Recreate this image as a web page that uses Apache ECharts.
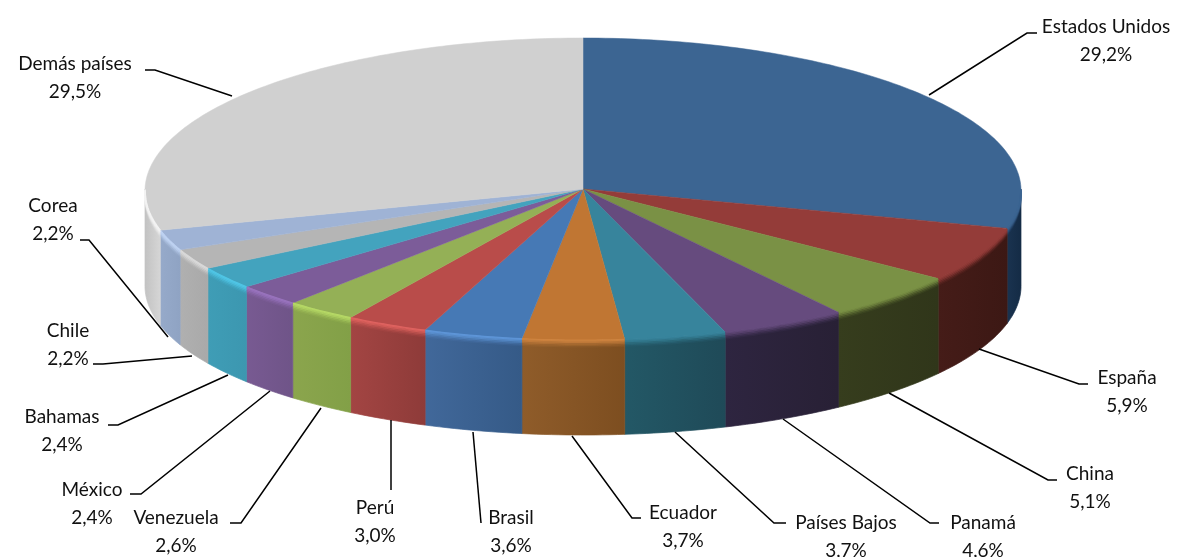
<!DOCTYPE html>
<html><head><meta charset="utf-8">
<style>html,body{margin:0;padding:0;background:#fff}#c{width:1188px;height:557px}</style>
<script src="https://cdn.jsdelivr.net/npm/echarts@6/dist/echarts.min.js"></script>
</head><body><div id="c"></div>
<script>
const categories = ['Estados Unidos','España','China','Panamá','Países Bajos','Ecuador','Brasil','Perú','Venezuela','México','Bahamas','Chile','Corea','Demás países'];
const shares = [29.2,5.9,5.1,4.6,3.7,3.7,3.6,3.0,2.6,2.4,2.4,2.2,2.2,29.5];

const topColors  = ['#3c6592','#943c39','#7a9145','#664b7e','#37849c','#c07633','#4679b5','#b94c4a','#94b056','#7c5c99','#43a3be','#b5b5b5','#9fb3d5','#d0d0d0'];
const sideLight  = ['#1a3350','#451c18','#363d1d','#2e2540','#235866','#8f5c2a','#41689a','#a34543','#8ba54d','#785a92','#3f9db6','#b0b0b0','#96aaca','#c2c2c2'];
const sideDark   = ['#142b45','#3c1814','#30361a','#282035','#1f4a58','#7d4e20','#355a87','#8e3b39','#82a047','#6f5488','#3c97b0','#a9a9a9','#8fa3c3','#d6d6d6'];
const rimColors  = ['#3c6592','#943c39','#7a9145','#664b7e','#37849c','#d08540','#5f98dc','#e26460','#b8dc66','#9a74c0','#50c8e8','#dcdcdc','#c0d4f4','#f4f4f4'];

// layout of the labels and leader lines, in page pixels
const labelLayout = [
  {at:[1106,41], line:[[929,95],[1027,33],[1037,33]]},
  {at:[1127,392],line:[[979,349],[1079,384],[1088,384]]},
  {at:[1090,488],line:[[889,393],[1048,480],[1057,480]]},
  {at:[983,537], line:[[783,419],[930,523],[939,523]]},
  {at:[846,537], line:[[675,432],[774,523],[786,523]]},
  {at:[683,527], line:[[572,436],[632,518],[641,518]]},
  {at:[511,532], line:[[473,432],[481,523]]},
  {at:[375,522], line:[[391,420],[391,490]]},
  {at:[176,532], line:[[321,408],[241,523],[230,523]]},
  {at:[92,504],  line:[[270,391],[141,494],[130,494]]},
  {at:[62,431],  line:[[228,375],[118,425],[108,425]]},
  {at:[68,345],  line:[[192,356],[103,364],[93,364]]},
  {at:[53,220],  line:[[168,337],[89,240],[80,240]]},
  {at:[75,78],   line:[[232,96],[155,70],[145,70]]}
];
const pieGeom = {cx:583, cy:189, rx:438, ry:151, depth:95, persp:0.012};
const rimBands = [[0.5,0.9],[2,0.7],[3.5,0.45],[5,0.25],[6.5,0.1]];

const full = 100;
let run = 0;
const sliceData = shares.map((v,i)=>{
  const s = run/full*360; run += v;
  return [s, Math.min(run/full*360,360), i];
});
const pt = (a,dy)=>{
  const r=a*Math.PI/180, c=Math.cos(r);
  return [pieGeom.cx+pieGeom.rx*Math.sin(r)*(1-pieGeom.persp*c),pieGeom.cy-pieGeom.ry*c+(dy||0)];
};
const arc = (s,e,dy)=>{const o=[];const n=Math.max(2,Math.ceil(Math.abs(e-s)));for(let k=0;k<=n;k++)o.push(pt(s+(e-s)*k/n,dy));return o;};

const renderSide=(p,api)=>{
  const s=Math.max(api.value(0),90),e=Math.min(api.value(1),270),i=api.value(2);
  if(e<=s) return {type:'group',children:[]};
  const pts=arc(s,e,0).concat(arc(e,s,pieGeom.depth));
  const grad=new echarts.graphic.LinearGradient(0,0,1,0,[{offset:0,color:sideLight[i]},{offset:1,color:sideDark[i]}]);
  return {type:'polygon',shape:{points:pts},silent:true,style:{fill:grad,stroke:grad,lineWidth:0.7}};
};
const renderTop=(p,api)=>{
  const s=api.value(0),e=api.value(1),i=api.value(2);
  return {type:'polygon',shape:{points:[[pieGeom.cx,pieGeom.cy]].concat(arc(s,e,0))},silent:true,
    style:{fill:topColors[i],stroke:topColors[i],lineWidth:0.5}};
};
const renderRim=(p,api)=>{
  const s=Math.max(api.value(0),90),e=Math.min(api.value(1),270),i=api.value(2);
  if(e<=s) return {type:'group',children:[]};
  return {type:'group',silent:true,children:rimBands.map(b=>({type:'polyline',shape:{points:arc(s,e,b[0])},
    style:{fill:null,stroke:rimColors[i],lineWidth:2,opacity:b[1],lineCap:'butt'}}))};
};
const renderLabel=(p,api)=>{
  const i=api.value(2),L=labelLayout[i];
  return {type:'group',silent:true,children:[
    {type:'polyline',shape:{points:L.line},style:{fill:null,stroke:'#000',lineWidth:1.5}},
    {type:'text',x:L.at[0],y:L.at[1],style:{
      text:categories[i]+'\n'+shares[i].toFixed(1).replace('.',',')+'%',
      fill:'#111',font:'19px Lato',lineHeight:28,align:'center',verticalAlign:'middle'}}
  ]};
};
const chart=echarts.init(document.getElementById('c'),null,{renderer:'canvas'});
const mk=(fn,z)=>({type:'custom',coordinateSystem:'none',renderItem:fn,data:sliceData,z,silent:true,animation:false});
chart.setOption({animation:false,backgroundColor:'#fff',
  series:[mk(renderSide,1),mk(renderTop,2),mk(renderRim,3),mk(renderLabel,4)]});
</script></body></html>
